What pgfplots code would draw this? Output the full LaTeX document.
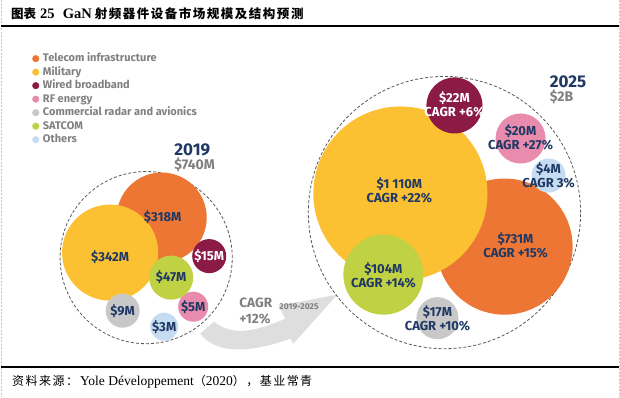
\documentclass[border=0pt]{standalone}
\usepackage{pgfplots}
\pgfplotsset{compat=1.18}
\usepackage{fontspec}
\setmainfont{Fira Sans}
\newfontfamily\cjk{Noto Sans CJK SC}
\newfontfamily\cjkt[LetterSpace=12]{Noto Sans CJK SC}
\newfontfamily\tnr{Liberation Serif}
\definecolor{cOrange}{RGB}{237,118,52}
\definecolor{cYellow}{RGB}{251,193,50}
\definecolor{cWine}{RGB}{139,26,68}
\definecolor{cPink}{RGB}{232,139,172}
\definecolor{cGray}{RGB}{200,200,200}
\definecolor{cGreen}{RGB}{192,210,68}
\definecolor{cBlue}{RGB}{198,220,242}
\definecolor{navy}{RGB}{31,56,100}
\definecolor{tgray}{RGB}{128,128,128}
\definecolor{agray}{RGB}{222,222,222}
\pgfplotsset{bubble/.style={scatter, only marks, mark=*, forget plot,
  draw=none, line width=0pt, draw opacity=0,
  mark options={draw=none, fill=#1, draw opacity=0},
  scatter/use mapped color={draw=none, fill=#1, draw opacity=0},
  visualization depends on={\thisrow{r}\as\rad},
  scatter/@pre marker code/.append style={/tikz/mark size=\rad}}}
\begin{document}
\begin{tikzpicture}
\begin{axis}[
  set layers=standard,
  width=620pt, height=396pt, scale only axis,
  xmin=0, xmax=620, ymin=0, ymax=396, y dir=reverse,
  enlargelimits=false, hide axis, clip=false,
  legend style={at={(axis description cs:0.0468,0.8737)}, anchor=north west, draw=none, fill=none,
     font=\bfseries\fontsize{11}{13}\selectfont, text=tgray, row sep=1.5pt,
     nodes={inner sep=1pt, text height=8pt, text depth=2pt}},
  legend cell align=left,
]
% legend
\addlegendimage{legend image code/.code={\fill[cOrange] (0pt,0pt) circle (3.3pt); \path (6pt,0pt);}}
\addlegendentry{Telecom infrastructure}
\addlegendimage{legend image code/.code={\fill[cYellow] (0pt,0pt) circle (3.3pt); \path (6pt,0pt);}}
\addlegendentry{Military}
\addlegendimage{legend image code/.code={\fill[cWine] (0pt,0pt) circle (3.3pt); \path (6pt,0pt);}}
\addlegendentry{Wired broadband}
\addlegendimage{legend image code/.code={\fill[cPink] (0pt,0pt) circle (3.3pt); \path (6pt,0pt);}}
\addlegendentry{RF energy}
\addlegendimage{legend image code/.code={\fill[cGray] (0pt,0pt) circle (3.3pt); \path (6pt,0pt);}}
\addlegendentry{Commercial radar and avionics}
\addlegendimage{legend image code/.code={\fill[cGreen] (0pt,0pt) circle (3.3pt); \path (6pt,0pt);}}
\addlegendentry{SATCOM}
\addlegendimage{legend image code/.code={\fill[cBlue] (0pt,0pt) circle (3.3pt); \path (6pt,0pt);}}
\addlegendentry{Others}

% page decorations
\draw[gray!45, dash pattern=on 2pt off 1.5pt, line width=0.7pt] (axis cs:1,0) -- (axis cs:1,396);
\draw[gray!45, dash pattern=on 2pt off 1.5pt, line width=0.7pt] (axis cs:619,0) -- (axis cs:619,396);
\draw[black, line width=2pt] (axis cs:1,25.5) -- (axis cs:618,25.5);
\draw[black, line width=2pt] (axis cs:1,366) -- (axis cs:618,366);
\node[anchor=west, inner sep=0pt] at (axis cs:11,13) {{\cjk\bfseries\fontsize{12.5}{14}\selectfont 图表}\hspace{4pt}{\tnr\bfseries\fontsize{14.5}{14}\selectfont 25\hspace{8pt}GaN}\hspace{3pt}{\cjkt\bfseries\fontsize{12.5}{14}\selectfont 射频器件设备市场规模及结构预测}};
\node[anchor=west, inner sep=0pt] at (axis cs:12,381) {{\cjkt\fontsize{12}{14}\selectfont 资料来源：}\hspace{2pt}{\tnr\fontsize{13.5}{14}\selectfont Yole Développement}{\cjk\fontsize{12}{14}\selectfont （}{\tnr\fontsize{13.5}{14}\selectfont 2020}{\cjkt\fontsize{12}{14}\selectfont ），基业常青}};

% arrow
\fill[agray] (axis cs:200,333) .. controls (axis cs:215,352) and (axis cs:245,354) .. (axis cs:290,338)
  -- (axis cs:293,343) -- (axis cs:337,294) -- (axis cs:278,305) -- (axis cs:285,318)
  .. controls (axis cs:255,331) and (axis cs:232,336) .. (axis cs:214,321) -- cycle;
\node[anchor=west, inner sep=0pt, text=tgray, font=\bfseries\fontsize{13.5}{14}\selectfont] at (axis cs:239,302.5) {CAGR};
\node[anchor=west, inner sep=0pt, text=tgray, font=\bfseries\fontsize{8.5}{9}\selectfont] at (axis cs:279,306) {2019-2025};
\node[anchor=west, inner sep=0pt, text=tgray, font=\bfseries\fontsize{13.5}{14}\selectfont] at (axis cs:239,318) {+12\%};

% dashed outlines
\addplot[only marks, mark=o, mark size=86, forget plot,
  mark options={draw=black!65, line width=0.8pt, dash pattern=on 3pt off 2pt}]
  coordinates {(146,257)};
\addplot[only marks, mark=o, mark size=136, forget plot,
  mark options={draw=black!65, line width=0.8pt, dash pattern=on 3pt off 2pt}]
  coordinates {(444,212)};

% bubbles: 2019 then 2025 for each segment
\addplot[bubble=cOrange] table {
x y r
161.5 217 45
504 246 68
};
\addplot[bubble=cYellow] table {
x y r
110 252 48
400 193 87
};
\addplot[bubble=cWine] table {
x y r
209 255.5 17
454 105 28
};
\addplot[bubble=cPink] table {
x y r
193 306 15
520 138 25
};
\addplot[bubble=cGray] table {
x y r
122.5 310 17
437 317.5 21
};
\addplot[bubble=cGreen] table {
x y r
171 277 22
383 274 40
};
\addplot[bubble=cBlue] table {
x y r
164 326 14
548 175 17
};

% year labels
\node[anchor=west, inner sep=0pt, text=navy, font=\bfseries\fontsize{17}{17}\selectfont] at (axis cs:174,149) {2019};
\node[anchor=west, inner sep=0pt, text=tgray, font=\bfseries\fontsize{14}{14}\selectfont] at (axis cs:174,164.5) {\$740M};
\node[anchor=west, inner sep=0pt, text=navy, font=\bfseries\fontsize{17}{17}\selectfont] at (axis cs:549,81) {2025};
\node[anchor=west, inner sep=0pt, text=tgray, font=\bfseries\fontsize{14}{14}\selectfont] at (axis cs:549,96.5) {\$2B};

% bubble labels
\begin{pgfonlayer}{axis foreground}
\begin{scope}[every node/.style={inner sep=0pt, align=center, text=navy, font=\bfseries\fontsize{13}{14}\selectfont}]
\node at (axis cs:162.5,216.5) {\$318M};
\node at (axis cs:110,257) {\$342M};
\node[text=white] at (axis cs:209,256) {\$15M};
\node at (axis cs:171,276.5) {\$47M};
\node at (axis cs:122.5,310) {\$9M};
\node at (axis cs:193,306) {\$5M};
\node at (axis cs:164,326) {\$3M};
\node at (axis cs:399,190) {\$1 110M\\CAGR +22\%};
\node at (axis cs:515,245) {\$731M\\CAGR +15\%};
\node at (axis cs:383,275) {\$104M\\CAGR +14\%};
\node[text=white] at (axis cs:454,104) {\$22M\\CAGR +6\%};
\node at (axis cs:520,137) {\$20M\\CAGR +27\%};
\node at (axis cs:548,175) {\$4M\\CAGR 3\%};
\node at (axis cs:437,318) {\$17M\\CAGR +10\%};
\end{scope}
\end{pgfonlayer}
\end{axis}
\end{tikzpicture}
\end{document}
